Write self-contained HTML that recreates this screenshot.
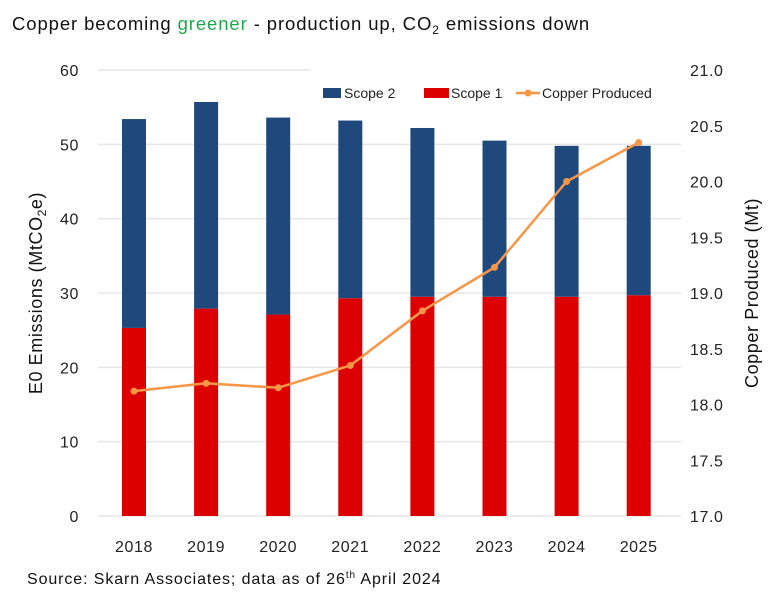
<!DOCTYPE html>
<html><head><meta charset="utf-8"><style>
body{margin:0;background:#fff}
svg{display:block;font-family:"Liberation Sans",sans-serif}
</style></head><body>
<svg id="c" width="780" height="604" viewBox="0 0 780 604">
<text x="12" y="30" font-size="18.5" fill="#111" letter-spacing="0.9">Copper becoming <tspan fill="#1fa84a">greener</tspan> - production up, CO<tspan font-size="12" dy="4">2</tspan><tspan dy="-4"> emissions down</tspan></text>
<g id="grid"></g><g id="bars"></g><g id="line"></g><g id="axes"></g>
<g>
<rect x="323" y="88" width="18" height="10" fill="#1f497d"/>
<text x="344" y="98" font-size="14" fill="#222">Scope 2</text>
<rect x="424" y="88" width="25" height="10" fill="#dd0000"/>
<text x="451" y="98" font-size="14" fill="#222">Scope 1</text>
<line x1="516" y1="93" x2="540" y2="93" stroke="#f79646" stroke-width="2.5"/>
<circle cx="528" cy="93" r="3.5" fill="#f79646"/>
<text x="542" y="98" font-size="14" fill="#222">Copper Produced</text>
</g>
<text transform="translate(42,293) rotate(-90)" text-anchor="middle" font-size="18" letter-spacing="0.6" fill="#111">E0 Emissions (MtCO<tspan font-size="12" dy="4">2</tspan><tspan dy="-4">e)</tspan></text>
<text transform="translate(758,293) rotate(-90)" text-anchor="middle" font-size="18" letter-spacing="0.6" fill="#111">Copper Produced (Mt)</text>
<text x="27" y="584" font-size="16" letter-spacing="0.9" fill="#111">Source: Skarn Associates; data as of 26<tspan font-size="10" dy="-6">th</tspan><tspan dy="6"> April 2024</tspan></text>
</svg>
<script>
const years=["2018","2019","2020","2021","2022","2023","2024","2025"];
const scope1=[25.3,27.9,27.1,29.3,29.5,29.5,29.5,29.7];
const scope2=[28.1,27.8,26.5,23.9,22.7,21.0,20.3,20.1];
const copper=[18.12,18.19,18.15,18.35,18.84,19.23,20.0,20.35];
const leftTicks=[0,10,20,30,40,50,60];
const rightTicks=["17.0","17.5","18.0","18.5","19.0","19.5","20.0","20.5","21.0"];
const NS="http://www.w3.org/2000/svg";
const y0=516,y1=70;
const yL=v=>y0-(v/60)*(y0-y1);
const yR=v=>y0-((v-17)/4)*(y0-y1);
const xC=i=>134+i*72.1;
function mk(t,a,p){const e=document.createElementNS(NS,t);for(const k in a)e.setAttribute(k,a[k]);p.appendChild(e);return e;}
const grid=document.getElementById('grid'),bars=document.getElementById('bars'),line=document.getElementById('line'),axes=document.getElementById('axes');
leftTicks.forEach(v=>{
  const g=mk('line',{x1:98,x2:v===60?311:681,y1:yL(v),y2:yL(v),stroke:'#e6e6e6','stroke-width':1.5},grid);
  
  
  const t=mk('text',{x:79,y:yL(v)+6,'text-anchor':'end','font-size':16,'letter-spacing':0.6,fill:'#222'},axes);t.textContent=v;
  
  
});
rightTicks.forEach(s=>{
  const t=mk('text',{x:690,y:yR(parseFloat(s))+6,'font-size':16,'letter-spacing':0.6,fill:'#222'},axes);t.textContent=s;
  
  
});
years.forEach((yr,i)=>{
  const w=24,x=xC(i)-w/2;
  const b1=mk('rect',{x:x,y:yL(scope1[i]),width:w,height:y0-yL(scope1[i]),fill:'#dd0000'},bars);
  
  
  const tot=scope1[i]+scope2[i];
  const b2=mk('rect',{x:x,y:yL(tot),width:w,height:yL(scope1[i])-yL(tot),fill:'#1f497d'},bars);
  
  
  const t=mk('text',{x:xC(i),y:552,'text-anchor':'middle','font-size':16,'letter-spacing':0.6,fill:'#222'},axes);t.textContent=yr;
  
  
});
const pl=mk('polyline',{points:copper.map((v,i)=>xC(i)+','+yR(v)).join(' '),fill:'none',stroke:'#f79646','stroke-width':2.5},line);


copper.forEach((v,i)=>{
  const c=mk('circle',{cx:xC(i),cy:yR(v),r:3.5,fill:'#f79646'},line);
  
  
});
</script>
</body></html>
